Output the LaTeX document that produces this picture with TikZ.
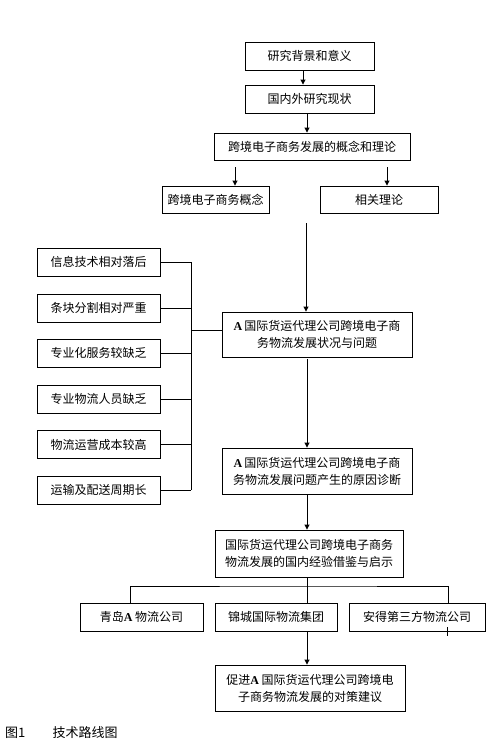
\documentclass[tikz,border=0pt]{standalone}
\usepackage{fontspec}
\setmainfont{Noto Sans CJK SC}
\newfontfamily\latinfont{Liberation Serif}
\newcommand{\LetterA}{{\latinfont\bfseries A}}
\usepackage{tikz}
\usetikzlibrary{calc,positioning}
\usetikzlibrary{arrows.meta}
\tikzset{
    route box/.style={
        draw,line width=0.9pt,
        fill=white,
        inner sep=0pt,
        font=\fontsize{12}{17}\selectfont
    },
    wide box/.style={
        route box,
        align=center
    },
    link/.style={line width=0.9pt},
    >={Triangle[length=5pt,width=5pt]}
}

\begin{document}
\begin{tikzpicture}[x=1pt,y=-1pt]
\useasboundingbox (0,0) rectangle (487,747);
\node[route box,minimum width=129pt,minimum height=28pt] (back) at (309.5,56) {研究背景和意义};
\node[route box,minimum width=129pt,minimum height=28pt] (status) at (309.5,99) {国内外研究现状};
\node[route box,minimum width=196pt,minimum height=27pt] (theory) at (312,146.5) {跨境电子商务发展的概念和理论};
\node[route box,minimum width=107pt,minimum height=27pt] (concept) at (215.5,199.5) {跨境电子商务概念};
\node[route box,minimum width=118pt,minimum height=27pt] (related) at (379,199.5) {相关理论};
\node[wide box,minimum width=190pt,minimum height=45pt] (problem) at (317,334.5) {\LetterA\,国际货运代理公司跨境电子商\\务物流发展状况与问题};
\node[wide box,minimum width=190pt,minimum height=46pt] (cause) at (317,471) {\LetterA\,国际货运代理公司跨境电子商\\务物流发展问题产生的原因诊断};
\node[wide box,minimum width=188pt,minimum height=47pt] (lesson) at (309,553.5) {国际货运代理公司跨境电子商务\\物流发展的国内经验借鉴与启示};
\node[route box,minimum width=123pt,minimum height=28pt] (qingdao) at (141.5,617) {青岛\LetterA\ 物流公司};
\node[route box,minimum width=122pt,minimum height=28pt] (jincheng) at (276,617) {锦城国际物流集团};
\node[route box,minimum width=136pt,minimum height=28pt] (annto) at (417,617) {安得第三方物流公司};
\node[wide box,minimum width=190pt,minimum height=46pt] (advice) at (310,688) {促进\LetterA\ 国际货运代理公司跨境电\\子商务物流发展的对策建议};
\node[anchor=west,inner sep=0pt,font=\fontsize{13}{15}\selectfont] (caption) at (5,733) {图1\hspace{2.1em}技术路线图};

% causes on the left
\coordinate (spine) at (191,330);
\foreach \i/\y/\name in {1/262/信息技术相对落后,2/308/条块分割相对严重,3/353/专业化服务较缺乏,4/399/专业物流人员缺乏,5/444.5/物流运营成本较高,6/490/运输及配送周期长}{
    \node[route box,minimum width=123pt,minimum height=28pt] (cause_\i) at (98.5,\y) {\name};
    \draw[link] (cause_\i.east) -- (cause_\i.east -| spine);
}
\draw[link] (cause_1.east -| spine) -- (cause_6.east -| spine);
\draw[link] (spine) -- (spine -| problem.west);

% main chain
\draw[link,->] ([xshift=-6.5pt]back.south) -- ([xshift=-6.5pt]status.north);
\draw[link,->] ([xshift=-2.5pt]status.south) -- ([xshift=-5pt]theory.north);
\draw[link,<-] ([xshift=19.5pt]concept.north) -- ++(0,-19);
\draw[link,<-] ([xshift=8pt]related.north) -- ++(0,-19);
\draw[link,<-] ([xshift=-11pt]problem.north) -- ++(0,-89);
\draw[link,->] ([xshift=-10pt,yshift=-2pt]problem.south) -- ([xshift=-10pt]cause.north);
\draw[link,->] ([xshift=-10pt]cause.south) -- ([xshift=-2pt]lesson.north);

% domestic cases
\coordinate (bar) at (307,586);
\draw[link] ([xshift=-2pt]lesson.south) -- ([xshift=31pt]jincheng.north);
\draw[link] ([xshift=-11.5pt]qingdao.north) |- (bar) -| ([xshift=31pt]annto.north);
\draw[link,->] ([xshift=31pt]jincheng.south) -- ([xshift=-3pt]advice.north);
\draw[link] ([xshift=30pt,yshift=4pt]annto.south) -- ++(0,9);
\end{tikzpicture}
\end{document}
